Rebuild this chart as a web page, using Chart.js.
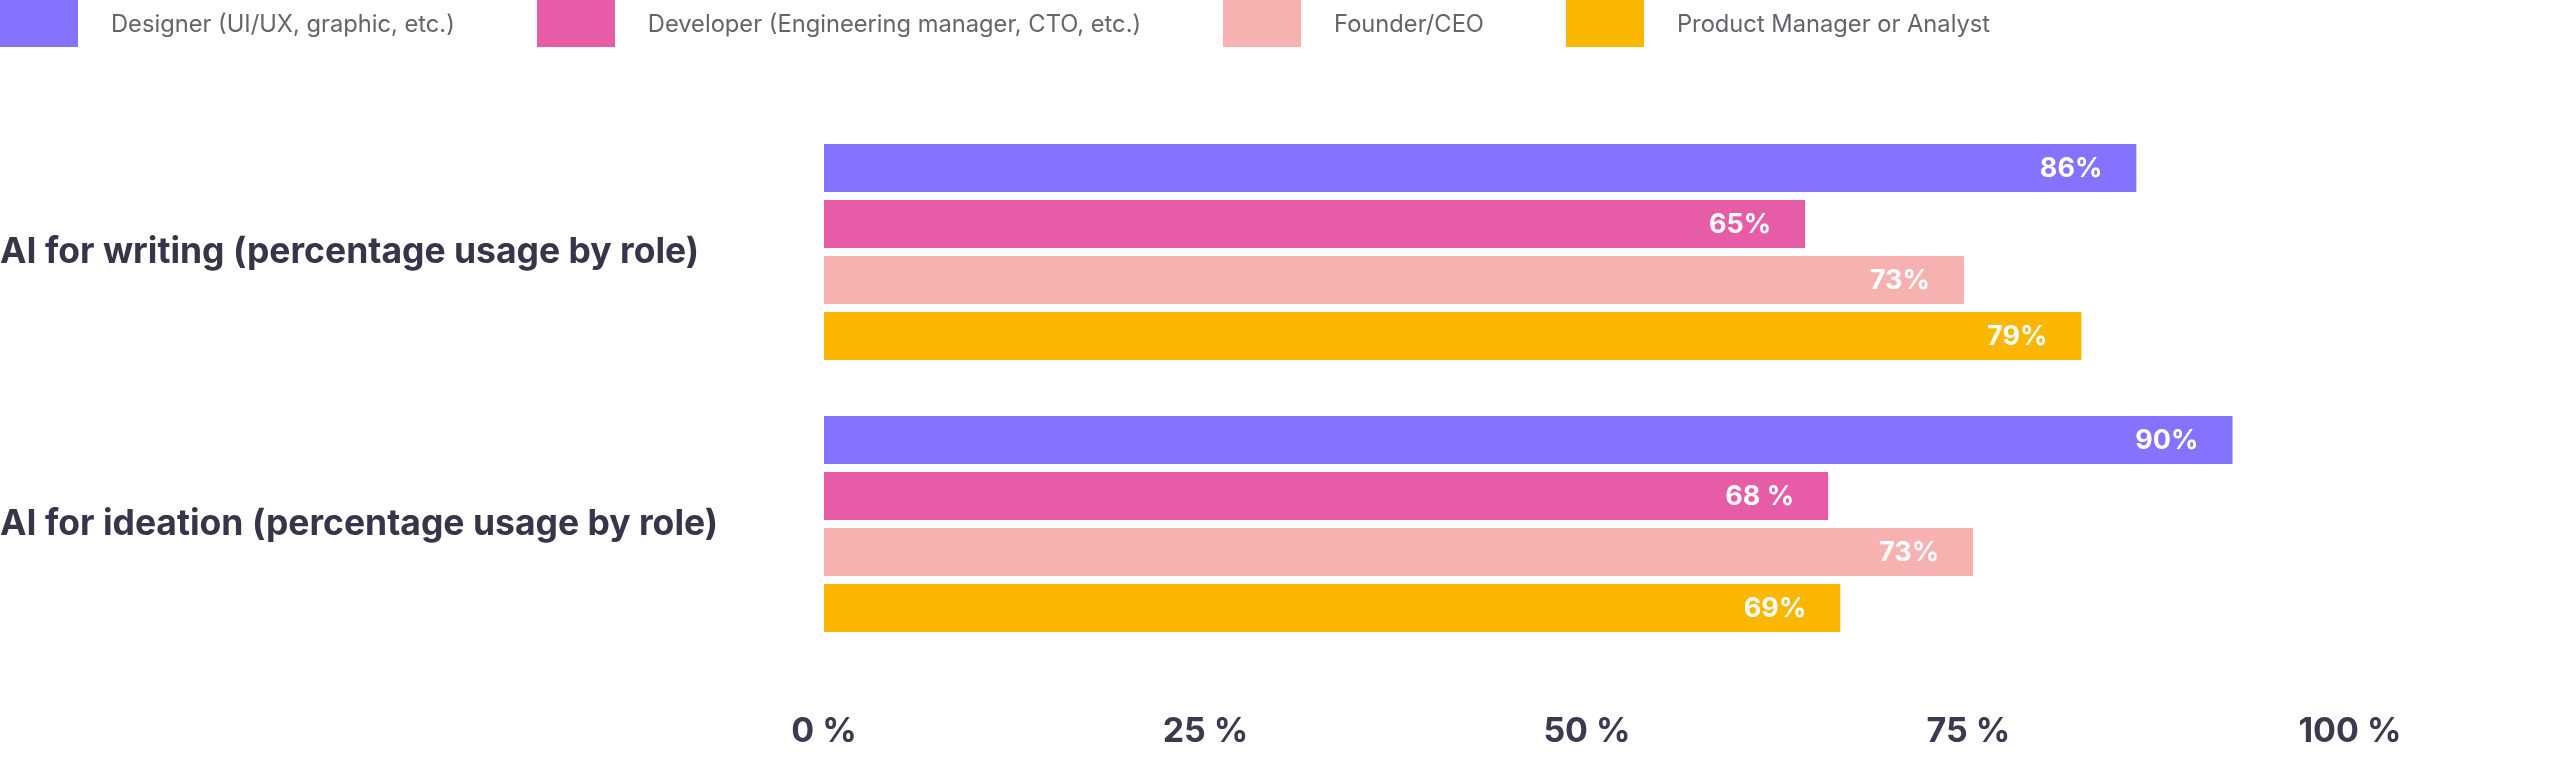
<!DOCTYPE html>
<html>
<head>
<meta charset="utf-8">
<script src="https://cdn.jsdelivr.net/npm/chart.js@4.4.1/dist/chart.umd.min.js"></script>
<style>
  html, body { margin: 0; padding: 0; background: #fff; }
  #wrap { position: relative; width: 2560px; height: 758px; }
  #legend { position: absolute; left: 0; top: 0; display: flex; align-items: center;
    font-family: Inter, sans-serif; font-size: 23.7px; color: #63656b; }
  .item { display: flex; align-items: center; margin-right: 82px; }
  .box { width: 78px; height: 47px; margin-right: 33px; }
</style>
</head>
<body>
<div id="wrap">
  <canvas id="bar-chart" width="2560" height="758"></canvas>
  <div id="legend"></div>
</div>
<script>
var categories = ['AI for writing (percentage usage by role)', 'AI for ideation (percentage usage by role)'];
var roles = ['Designer (UI/UX, graphic, etc.)', 'Developer (Engineering manager, CTO, etc.)', 'Founder/CEO', 'Product Manager or Analyst'];
var colors = ['#8373FE', '#E75CA6', '#F8B1B1', '#FBB600'];

// bar lengths as drawn in the picture
var designerValues = [86, 92.3];
var developerValues = [64.3, 65.8];
var founderValues = [74.7, 75.3];
var productValues = [82.4, 66.6];

// the numbers printed on the bars
var designerLabels = ['86%', '90%'];
var developerLabels = ['65%', '68 %'];
var founderLabels = ['73%', '73%'];
var productLabels = ['79%', '69%'];

var tickLabels = ['0 %', '25 %', '50 %', '75 %', '100 %'];

var seriesValues = [designerValues, developerValues, founderValues, productValues];
var seriesLabels = [designerLabels, developerLabels, founderLabels, productLabels];

var datasets = roles.map(function(role, i) {
  return {
    label: role,
    data: seriesValues[i],
    valueLabels: seriesLabels[i],
    backgroundColor: colors[i],
    borderWidth: 0,
    categoryPercentage: 0.8235,
    barPercentage: 0.857
  };
});

// white numbers near the end of each bar
var barLabels = {
  id: 'barLabels',
  afterDatasetsDraw: function(chart) {
    var ctx = chart.ctx;
    ctx.save();
    ctx.font = '700 27px Inter';
    ctx.fillStyle = '#ffffff';
    ctx.textAlign = 'right';
    ctx.textBaseline = 'middle';
    chart.data.datasets.forEach(function(ds, i) {
      chart.getDatasetMeta(i).data.forEach(function(bar, j) {
        ctx.fillText(ds.valueLabels[j], bar.x - 34, bar.y + 1);
      });
    });
    ctx.restore();
  }
};

var chart = new Chart(document.getElementById('bar-chart'), {
  type: 'bar',
  data: { labels: categories, datasets: datasets },
  plugins: [barLabels],
  options: {
    indexAxis: 'y',
    responsive: false,
    animation: false,
    devicePixelRatio: 1,
    layout: { padding: { top: 116, right: 210, left: 0, bottom: 0 } },
    plugins: {
      legend: { display: false },
      tooltip: { enabled: false }
    },
    scales: {
      x: {
        min: 0,
        max: 100,
        grid: { display: false, drawTicks: false },
        border: { display: false },
        afterFit: function(scale) { scale.height = 98; },
        ticks: {
          stepSize: 25,
          padding: 51,
          color: '#3b3a50',
          font: { family: 'Inter', size: 34, weight: '700' },
          callback: function(value, index) { return tickLabels[index]; }
        }
      },
      y: {
        grid: { display: false, drawTicks: false },
        border: { display: false },
        afterFit: function(scale) { scale.width = 824; },
        ticks: {
          crossAlign: 'far',
          color: '#37354a',
          font: { family: 'Inter', size: 35.5, weight: '700' }
        }
      }
    }
  }
});

// legend built from the chart's datasets
var legend = document.getElementById('legend');
chart.data.datasets.forEach(function(ds) {
  var item = document.createElement('div');
  item.className = 'item';
  var box = document.createElement('div');
  box.className = 'box';
  box.style.background = ds.backgroundColor;
  var text = document.createElement('span');
  text.textContent = ds.label;
  item.appendChild(box);
  item.appendChild(text);
  legend.appendChild(item);
});
</script>
</body>
</html>
